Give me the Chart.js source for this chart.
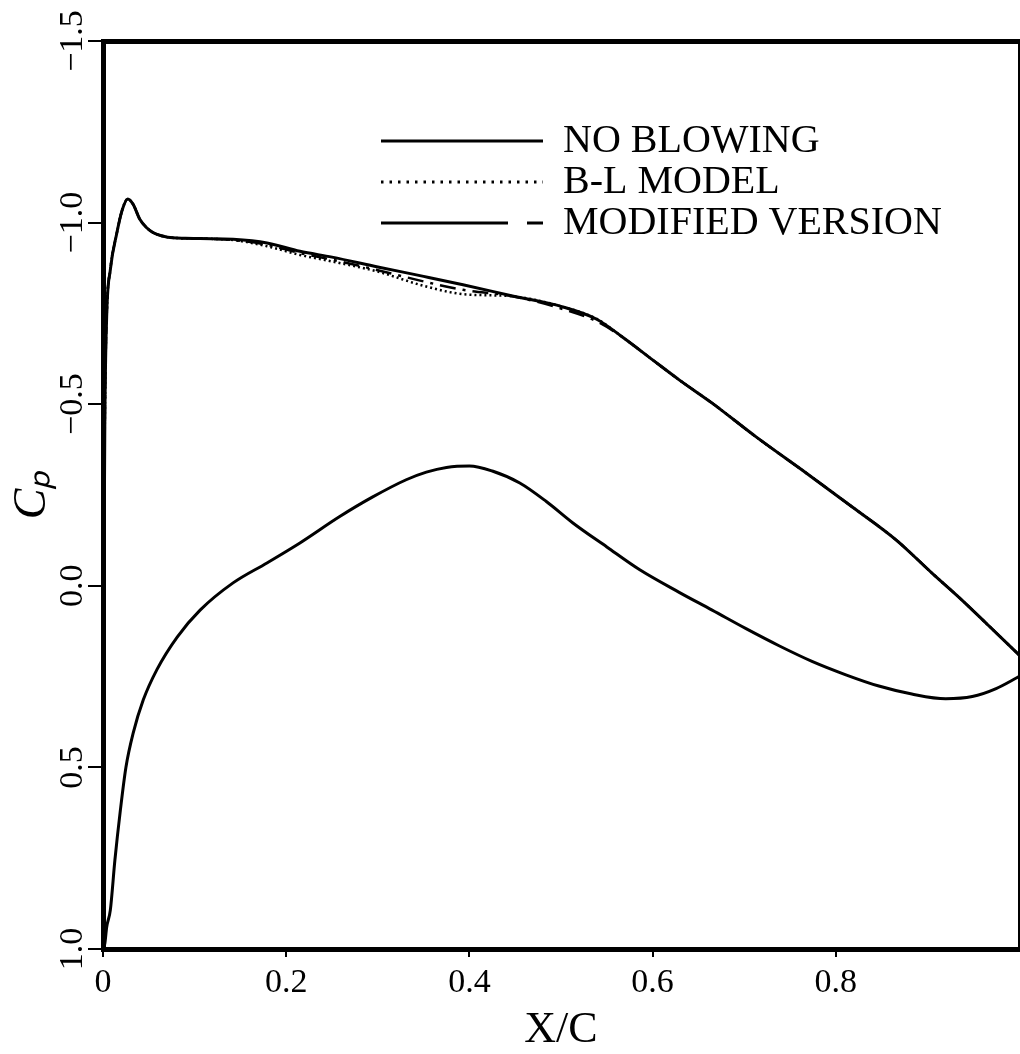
<!DOCTYPE html>
<html>
<head>
<meta charset="utf-8">
<title>Cp distribution</title>
<script src="https://cdn.jsdelivr.net/npm/chart.js@4.4.0/dist/chart.umd.min.js"></script>
<style>
  html, body { margin: 0; padding: 0; background: #fff; }
</style>
</head>
<body>
<canvas id="cpChart" width="1020" height="1054"></canvas>
<script>
// series names (legend order)
const seriesNames = ['NO BLOWING', 'B-L MODEL', 'MODIFIED VERSION'];

// upper surface, chordwise stations
const xUpper = [0, 0.0005, 0.001, 0.002, 0.004, 0.008, 0.015, 0.021, 0.027, 0.033, 0.040, 0.048,
  0.055, 0.065, 0.076, 0.090, 0.106, 0.142, 0.179, 0.215, 0.250, 0.300, 0.350, 0.393, 0.447,
  0.502, 0.539, 0.567, 0.600, 0.629, 0.665, 0.713, 0.768, 0.818, 0.866, 0.905, 0.938, 0.967, 1.000];

const cpNoBlowing = [1.0, 0.45, 0.0, -0.45, -0.74, -0.87, -0.97, -1.035, -1.065, -1.05, -1.01, -0.985,
  -0.972, -0.963, -0.958, -0.957, -0.956, -0.954, -0.944, -0.921, -0.905, -0.878, -0.852, -0.829, -0.798,
  -0.768, -0.734, -0.685, -0.622, -0.567, -0.503, -0.41, -0.31, -0.217, -0.126, -0.035, 0.04, 0.11, 0.19];

const cpBLModel = [1.0, 0.45, 0.0, -0.45, -0.74, -0.87, -0.97, -1.035, -1.065, -1.05, -1.01, -0.985,
  -0.972, -0.963, -0.958, -0.957, -0.956, -0.952, -0.935, -0.911, -0.893, -0.865, -0.826, -0.803, -0.797,
  -0.768, -0.735, -0.685, -0.622, -0.567, -0.503, -0.41, -0.31, -0.217, -0.126, -0.035, 0.04, 0.11, 0.19];

const cpModified = [1.0, 0.45, 0.0, -0.45, -0.74, -0.87, -0.97, -1.035, -1.065, -1.05, -1.01, -0.985,
  -0.972, -0.963, -0.958, -0.957, -0.956, -0.952, -0.939, -0.916, -0.898, -0.869, -0.838, -0.815, -0.797,
  -0.762, -0.728, -0.685, -0.622, -0.567, -0.503, -0.41, -0.31, -0.217, -0.126, -0.035, 0.04, 0.11, 0.19];

// lower surface (same for all three cases)
const xLower = [0, 0.002, 0.004, 0.008, 0.013, 0.019, 0.025, 0.033, 0.044, 0.059, 0.081, 0.106, 0.142,
  0.179, 0.215, 0.258, 0.294, 0.331, 0.353, 0.375, 0.400, 0.425, 0.455, 0.484, 0.513, 0.550, 0.586,
  0.629, 0.665, 0.702, 0.738, 0.774, 0.811, 0.847, 0.883, 0.920, 0.949, 0.975, 1.000];

const cpLower = [1.0, 0.985, 0.94, 0.893, 0.755, 0.617, 0.50, 0.405, 0.314, 0.23, 0.141, 0.067, -0.008,
  -0.063, -0.118, -0.19, -0.244, -0.292, -0.313, -0.326, -0.33, -0.316, -0.283, -0.232, -0.173, -0.107, -0.044,
  0.018, 0.067, 0.118, 0.165, 0.208, 0.245, 0.276, 0.298, 0.311, 0.305, 0.283, 0.25];

const xTicks = [0, 0.2, 0.4, 0.6, 0.8];
const yTicks = [-1.5, -1.0, -0.5, 0.0, 0.5, 1.0];

const serif = 'Liberation Serif';
const toPoints = (xs, ys) => xs.map((x, i) => ({ x: x, y: ys[i] }));

// dash patterns for the legend samples
const legendDash = [[], [2.5, 6], [127, 19, 17, 100]];

// the legend sits inside the plot, top right
const placeLegend = {
  id: 'placeLegend',
  afterLayout(chart) {
    const lg = chart.legend;
    if (!lg) return;
    const pad = lg.options.labels.padding;
    const w = lg.width, h = lg.height;
    lg.left = 381 - pad;
    lg.top = 121 - pad;
    lg.right = lg.left + w;
    lg.bottom = lg.top + h;
  }
};

const ctx = document.getElementById('cpChart');
new Chart(ctx, {
  type: 'line',
  data: {
    datasets: [{
      label: seriesNames[0],
      data: toPoints(xUpper, cpNoBlowing),
      borderColor: '#000',
      borderWidth: 3
    }, {
      label: seriesNames[1],
      data: toPoints(xUpper, cpBLModel),
      borderColor: '#000',
      borderWidth: 2.5,
      borderDash: [2, 3]
    }, {
      label: seriesNames[2],
      data: toPoints(xUpper, cpModified),
      borderColor: '#000',
      borderWidth: 2.5,
      borderDash: [16, 7, 3, 7]
    }, {
      label: 'lower surface',
      data: toPoints(xLower, cpLower),
      borderColor: '#000',
      borderWidth: 3
    }]
  },
  options: {
    responsive: false,
    animation: false,
    layout: { padding: 0 },
    elements: {
      point: { radius: 0 },
      line: { cubicInterpolationMode: 'monotone', fill: false }
    },
    plugins: {
      tooltip: { enabled: false },
      legend: {
        position: 'chartArea',
        align: 'start',
        labels: {
          usePointStyle: true,
          pointStyle: 'line',
          pointStyleWidth: 162,
          padding: 1,
          color: '#000',
          font: { family: serif, size: 40 },
          generateLabels(chart) {
            const items = Chart.defaults.plugins.legend.labels.generateLabels(chart);
            return items
              .filter(it => seriesNames.includes(it.text))
              .map(it => {
                it.lineDash = legendDash[it.datasetIndex];
                it.lineWidth = 3;
                return it;
              });
          }
        }
      }
    },
    scales: {
      x: {
        type: 'linear',
        position: 'bottom',
        min: 0,
        max: 1,
        afterFit(s) { s.height = 105; },
        afterBuildTicks(s) { s.ticks = xTicks.map(v => ({ value: v })); },
        border: { display: true, color: '#000', width: 5 },
        grid: { display: true, drawOnChartArea: false, drawTicks: true, tickLength: 8, color: '#000', lineWidth: 2 },
        ticks: {
          color: '#000',
          font: { family: serif, size: 34 },
          padding: 6,
          maxRotation: 0,
          autoSkip: false,
          callback: v => (v === 0 ? '0' : v.toFixed(1))
        },
        title: {
          display: true,
          text: 'X/C',
          color: '#000',
          font: { family: serif, size: 44, lineHeight: 1 },
          padding: { top: 0, bottom: 2 }
        }
      },
      y: {
        type: 'linear',
        position: 'left',
        min: -1.5,
        max: 1.0,
        reverse: true,
        afterFit(s) { s.width = 103; },
        afterBuildTicks(s) { s.ticks = yTicks.map(v => ({ value: v })); },
        border: { display: true, color: '#000', width: 5 },
        grid: { display: true, drawOnChartArea: false, drawTicks: true, tickLength: 15, color: '#000', lineWidth: 2 },
        ticks: {
          color: '#000',
          font: { family: serif, size: 34 },
          minRotation: 90,
          maxRotation: 90,
          crossAlign: 'center',
          padding: -16,
          autoSkip: false,
          callback: v => (v < 0 ? '\u2212' : '') + Math.abs(v).toFixed(1)
        },
        title: {
          display: true,
          text: 'C\u209A',
          color: '#000',
          font: { family: serif, size: 46, style: 'italic', lineHeight: 1 },
          padding: { top: 10, bottom: 0 }
        }
      },
      xTop: {
        type: 'linear',
        position: 'top',
        min: 0,
        max: 1,
        afterFit(s) { s.height = 41; },
        grid: { display: false },
        ticks: { display: false },
        border: { display: true, color: '#000', width: 5 }
      },
      yRight: {
        type: 'linear',
        position: 'right',
        min: 0,
        max: 1,
        afterFit(s) { s.width = 1; },
        grid: { display: false },
        ticks: { display: false },
        border: { display: true, color: '#000', width: 2 }
      }
    }
  },
  plugins: [placeLegend]
});
</script>
</body>
</html>
